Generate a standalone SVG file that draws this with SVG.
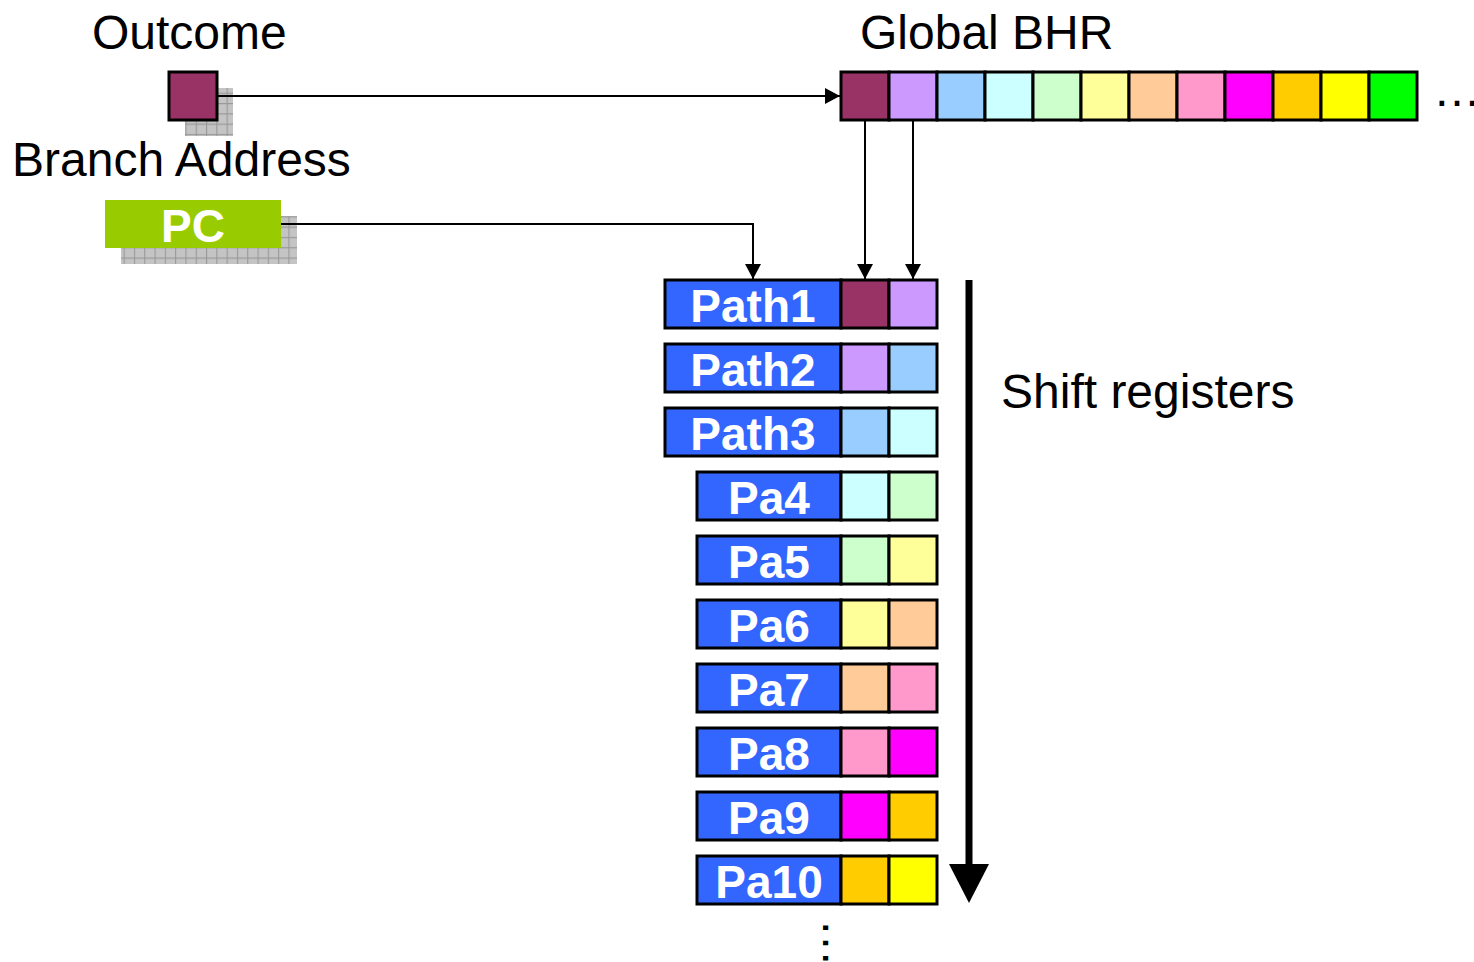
<svg xmlns="http://www.w3.org/2000/svg" width="1474" height="962" viewBox="0 0 1474 962">
<defs>
<pattern id="grid" x="0" y="0" width="10.3" height="10.3" patternUnits="userSpaceOnUse">
<rect width="10.3" height="10.3" fill="#c4c4c4"/>
<path d="M0 0.5H10.3M0.5 0V10.3" stroke="#999" stroke-width="1.2" fill="none"/>
</pattern>
<marker id="ah" markerUnits="userSpaceOnUse" markerWidth="16" markerHeight="16" refX="15" refY="8" orient="auto">
<path d="M0 0L15 8L0 16Z" fill="#000"/>
</marker>
</defs>
<style>
.lbl{font-family:"Liberation Sans",Arial,sans-serif;font-size:48px;fill:#000}
.wl{font-family:"Liberation Sans",Arial,sans-serif;font-size:46px;font-weight:bold;fill:#fff;text-anchor:middle}
.c{stroke:#000;stroke-width:3}
.blue{fill:#3366ff;stroke:#000;stroke-width:3}
.conn{stroke:#000;stroke-width:2;fill:none}
.dots{font-family:"Liberation Sans",Arial,sans-serif;font-size:48px;fill:#000}
</style>

<g id="outcome">
<rect x="185" y="88" width="48" height="48" fill="url(#grid)"/>
<rect x="169" y="72" width="48" height="48" fill="#993366" class="c"/>
<text class="lbl" x="92" y="49">Outcome</text>
</g>

<g id="branch-address">
<text class="lbl" x="12" y="176">Branch Address</text>
</g>

<g id="pc">
<rect x="121" y="216" width="176" height="48" fill="url(#grid)"/>
<rect x="105" y="200" width="176" height="48" fill="#99cc00"/>
<text class="wl" x="193" y="242">PC</text>
</g>

<g id="global-bhr">
<text class="lbl" x="860" y="49">Global BHR</text>
<rect x="841" y="72" width="48" height="48" fill="#993366" class="c"/>
<rect x="889" y="72" width="48" height="48" fill="#cc99ff" class="c"/>
<rect x="937" y="72" width="48" height="48" fill="#99ccff" class="c"/>
<rect x="985" y="72" width="48" height="48" fill="#ccffff" class="c"/>
<rect x="1033" y="72" width="48" height="48" fill="#ccffcc" class="c"/>
<rect x="1081" y="72" width="48" height="48" fill="#ffff99" class="c"/>
<rect x="1129" y="72" width="48" height="48" fill="#ffcc99" class="c"/>
<rect x="1177" y="72" width="48" height="48" fill="#ff99cc" class="c"/>
<rect x="1225" y="72" width="48" height="48" fill="#ff00ff" class="c"/>
<rect x="1273" y="72" width="48" height="48" fill="#ffcc00" class="c"/>
<rect x="1321" y="72" width="48" height="48" fill="#ffff00" class="c"/>
<rect x="1369" y="72" width="48" height="48" fill="#00ff00" class="c"/>
<text class="dots" x="1433" y="106">…</text>
</g>

<g id="path1">
<rect x="665" y="280" width="176" height="48" class="blue"/>
<rect x="841" y="280" width="48" height="48" fill="#993366" class="c"/>
<rect x="889" y="280" width="48" height="48" fill="#cc99ff" class="c"/>
<text class="wl" x="753" y="322">Path1</text>
</g>
<g id="path2">
<rect x="665" y="344" width="176" height="48" class="blue"/>
<rect x="841" y="344" width="48" height="48" fill="#cc99ff" class="c"/>
<rect x="889" y="344" width="48" height="48" fill="#99ccff" class="c"/>
<text class="wl" x="753" y="386">Path2</text>
</g>
<g id="path3">
<rect x="665" y="408" width="176" height="48" class="blue"/>
<rect x="841" y="408" width="48" height="48" fill="#99ccff" class="c"/>
<rect x="889" y="408" width="48" height="48" fill="#ccffff" class="c"/>
<text class="wl" x="753" y="450">Path3</text>
</g>
<g id="pa4">
<rect x="697" y="472" width="144" height="48" class="blue"/>
<rect x="841" y="472" width="48" height="48" fill="#ccffff" class="c"/>
<rect x="889" y="472" width="48" height="48" fill="#ccffcc" class="c"/>
<text class="wl" x="769" y="514">Pa4</text>
</g>
<g id="pa5">
<rect x="697" y="536" width="144" height="48" class="blue"/>
<rect x="841" y="536" width="48" height="48" fill="#ccffcc" class="c"/>
<rect x="889" y="536" width="48" height="48" fill="#ffff99" class="c"/>
<text class="wl" x="769" y="578">Pa5</text>
</g>
<g id="pa6">
<rect x="697" y="600" width="144" height="48" class="blue"/>
<rect x="841" y="600" width="48" height="48" fill="#ffff99" class="c"/>
<rect x="889" y="600" width="48" height="48" fill="#ffcc99" class="c"/>
<text class="wl" x="769" y="642">Pa6</text>
</g>
<g id="pa7">
<rect x="697" y="664" width="144" height="48" class="blue"/>
<rect x="841" y="664" width="48" height="48" fill="#ffcc99" class="c"/>
<rect x="889" y="664" width="48" height="48" fill="#ff99cc" class="c"/>
<text class="wl" x="769" y="706">Pa7</text>
</g>
<g id="pa8">
<rect x="697" y="728" width="144" height="48" class="blue"/>
<rect x="841" y="728" width="48" height="48" fill="#ff99cc" class="c"/>
<rect x="889" y="728" width="48" height="48" fill="#ff00ff" class="c"/>
<text class="wl" x="769" y="770">Pa8</text>
</g>
<g id="pa9">
<rect x="697" y="792" width="144" height="48" class="blue"/>
<rect x="841" y="792" width="48" height="48" fill="#ff00ff" class="c"/>
<rect x="889" y="792" width="48" height="48" fill="#ffcc00" class="c"/>
<text class="wl" x="769" y="834">Pa9</text>
</g>
<g id="pa10">
<rect x="697" y="856" width="144" height="48" class="blue"/>
<rect x="841" y="856" width="48" height="48" fill="#ffcc00" class="c"/>
<rect x="889" y="856" width="48" height="48" fill="#ffff00" class="c"/>
<text class="wl" x="769" y="898">Pa10</text>
</g>
<g id="more">
<text class="dots" transform="translate(823 943) rotate(90)" x="-24" y="0">…</text>
</g>

<g id="shift-registers">
<path d="M969 280V866" stroke="#000" stroke-width="7"/>
<path d="M949 864H989L969 903Z" fill="#000"/>
<text class="lbl" x="1001" y="408">Shift registers</text>
</g>

<g id="connectors">
<path class="conn" d="M217 96H840" marker-end="url(#ah)"/>
<path class="conn" d="M281 224H753V279" marker-end="url(#ah)"/>
<path class="conn" d="M865 120V279" marker-end="url(#ah)"/>
<path class="conn" d="M913 120V279" marker-end="url(#ah)"/>
</g>
</svg>
